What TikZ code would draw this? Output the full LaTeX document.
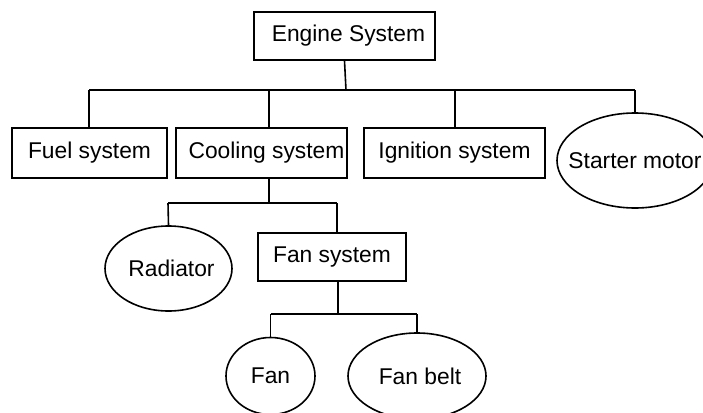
\documentclass[tikz,border=0pt]{standalone}
\usepackage{fontspec}
\setmainfont{Liberation Sans}
\usetikzlibrary{shapes.geometric}
\begin{document}
\begin{tikzpicture}[x=1pt,y=-1pt,
  every node/.style={font=\fontsize{22.8}{27}\selectfont},
  boxnode/.style={draw,line width=1.6pt,rectangle,inner sep=0pt},
  ellnode/.style={draw,line width=1.6pt,ellipse,inner sep=0pt},
  conn/.style={line width=1.6pt}]
\useasboundingbox (0,0) rectangle (703,412);
% nodes
\node[boxnode,minimum width=181pt,minimum height=48pt] (eng) at (344.5,36) {\makebox[0pt]{\hspace{8pt}Engine System}};
\node[boxnode,minimum width=155pt,minimum height=50pt] (fuel) at (89.5,153) {\makebox[0pt]{Fuel system}};
\node[boxnode,minimum width=171pt,minimum height=50pt] (cool) at (261.5,153) {\makebox[0pt]{\hspace{10pt}Cooling system}};
\node[boxnode,minimum width=181pt,minimum height=50pt] (ign) at (454.5,153) {\makebox[0pt]{Ignition system}};
\node[ellnode,minimum width=156pt,minimum height=95pt] (start) at (635,160.5) {\makebox[0pt]{Starter motor}};
\node[ellnode,minimum width=127pt,minimum height=85pt] (rad) at (168.5,268.5) {\makebox[0pt]{\hspace{6pt}Radiator}};
\node[boxnode,minimum width=148pt,minimum height=48pt] (fansys) at (332,257) {\makebox[0pt]{Fan system}};
\node[ellnode,minimum width=89pt,minimum height=77pt] (fan) at (270.5,376) {\makebox[0pt]{Fan}};
\node[ellnode,minimum width=138pt,minimum height=86pt] (belt) at (417,376) {\makebox[0pt]{\hspace{6pt}Fan belt}};
% coordinates
\coordinate (bus) at (346,90);
\coordinate (b1) at (89,90);
\coordinate (b2) at (269,90);
\coordinate (b3) at (455,90);
\coordinate (b4) at (635,90);
\coordinate (c0) at (269,203);
\coordinate (c1) at (168,203);
\coordinate (c2) at (337,203);
\coordinate (f0) at (338,314);
\coordinate (f1) at (270.5,314);
\coordinate (f2) at (417,314);
% connectors
\draw[conn] (eng.south) -- (bus);
\draw[conn] (b1) -- (b4);
\draw[conn] (b1) -- (b1 |- fuel.north);
\draw[conn] (b2) -- (b2 |- cool.north);
\draw[conn] (b3) -- (b3 |- ign.north);
\draw[conn] (b4) -- (start.north);
\draw[conn] (c0 |- cool.south) -- (c0);
\draw[conn] (c1) -- (c2);
\draw[conn] (c1) -- (rad.north);
\draw[conn] (c2) -- (c2 |- fansys.north);
\draw[conn] (f0 |- fansys.south) -- (f0);
\draw[conn] (f1) -- (f2);
\draw[conn] (f1) -- (fan.north);
\draw[conn] (f2) -- (belt.north);
\end{tikzpicture}
\end{document}
